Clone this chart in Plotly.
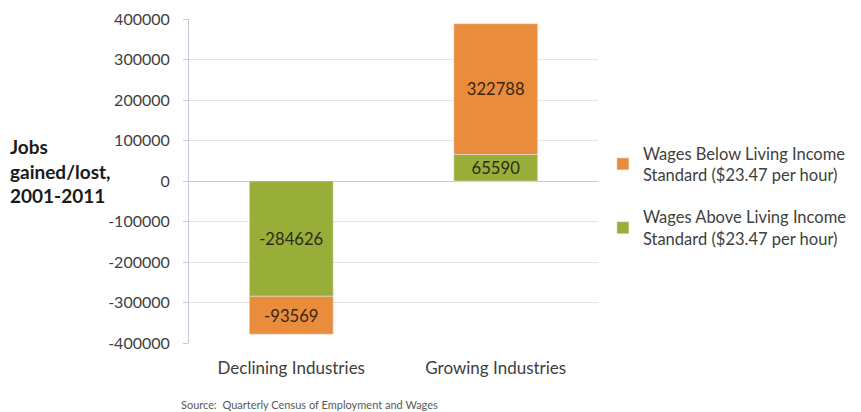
import plotly.graph_objects as go

categories = ["Declining Industries", "Growing Industries"]
above_vals = [-284626, 65590]
below_vals = [-93569, 322788]
above_name = "Wages Above Living Income<br>Standard ($23.47 per hour)"
below_name = "Wages Below Living Income<br>Standard ($23.47 per hour)"
y_ticks = [400000, 300000, 200000, 100000, 0, -100000, -200000, -300000, -400000]

FONT = "Lato, 'Open Sans', sans-serif"
GREEN = "#98AE38"
ORANGE = "#E98C3C"

fig = go.Figure()
fig.add_trace(go.Bar(
    x=categories, y=above_vals, name=above_name, marker_color=GREEN,
    text=[str(v) for v in above_vals], textposition="inside", insidetextanchor="middle",
    textfont=dict(color="#2e2a1a", size=17, family=FONT), legendrank=2, legendgroup="a",
))
fig.add_trace(go.Bar(
    x=categories, y=below_vals, name=below_name, marker_color=ORANGE,
    text=[str(v) for v in below_vals], textposition="inside", insidetextanchor="middle",
    textfont=dict(color="#3a2615", size=17, family=FONT), legendrank=1, legendgroup="b",
))

# page body has an 8px margin, so the figure is 8px smaller and margins shifted
fig.update_layout(
    width=853, height=404,
    barmode="relative", bargap=0.59,
    plot_bgcolor="white", paper_bgcolor="white",
    margin=dict(l=181, r=263, t=11, b=69, autoexpand=False),
    font=dict(family=FONT, size=16, color="#404040"),
    uniformtext=dict(minsize=10, mode="show"),
    legend=dict(x=1.012, y=0.454, xref="paper", yref="paper",
                xanchor="left", yanchor="middle",
                font=dict(size=16.5, color="#404040"), tracegroupgap=18,
                itemwidth=30, borderwidth=0),
    showlegend=True,
)
fig.update_yaxes(
    range=[-400000, 400000], tickvals=y_ticks, ticktext=[str(v) for v in y_ticks],
    showgrid=True, gridcolor="#E3E3E3", gridwidth=1,
    showline=True, linecolor="#C8C8D8", linewidth=1,
    ticks="outside", ticklen=5, tickcolor="#C8C8D8",
    zeroline=True, zerolinecolor="#C8C8D8", zerolinewidth=1,
    ticklabelstandoff=10, automargin=False,
    tickfont=dict(size=16, color="#404040"),
)
fig.update_xaxes(
    showline=False, showgrid=False, ticks="", ticklabelstandoff=13,
    tickfont=dict(size=17, color="#404040"), automargin=False,
)

fig.add_annotation(
    text="<b>Jobs<br>gained/lost,<br>2001-2011</b>", xref="paper", yref="paper",
    x=-0.442, y=0.53, xanchor="left", yanchor="middle", align="left", showarrow=False,
    font=dict(size=19, color="#1a1a1a", family=FONT),
)
fig.add_annotation(
    text="Source:  Quarterly Census of Employment and Wages", xref="paper", yref="paper",
    x=-0.025, y=-0.191, xanchor="left", yanchor="middle", align="left", showarrow=False,
    font=dict(size=11, color="#595959", family=FONT),
)

fig.write_html("out.html")
